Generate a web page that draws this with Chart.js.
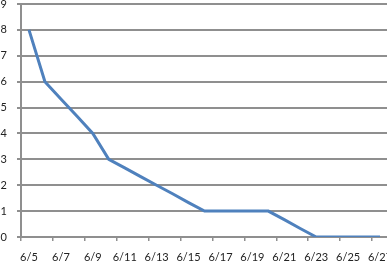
<!DOCTYPE html>
<html>
<head>
<meta charset="utf-8">
<script src="https://cdn.jsdelivr.net/npm/chart.js@4/dist/chart.umd.min.js"></script>
<style>
  html, body { margin: 0; padding: 0; background: #fff; overflow: hidden; }
  #wrap { width: 400px; height: 267px; position: relative; }
</style>
</head>
<body>
<div id="wrap"><canvas id="c"></canvas></div>
<script>
const categories = ["6/5","6/6","6/7","6/8","6/9","6/10","6/11","6/12","6/13","6/14","6/15","6/16",
                    "6/17","6/18","6/19","6/20","6/21","6/22","6/23","6/24","6/25","6/26","6/27"];
const remaining = [8, 6, 5.33, 4.67, 4, 3, 2.67, 2.33, 2, 1.67, 1.33, 1,
                   1, 1, 1, 1, 0.67, 0.33, 0, 0, 0, 0, 0];
const yTicks = [0, 1, 2, 3, 4, 5, 6, 7, 8, 9];

const axisGray = '#8f8f8f';
const font = { family: 'Lato, "Open Sans", sans-serif', size: 11 };

new Chart(document.getElementById('c'), {
  type: 'line',
  data: {
    labels: categories,
    datasets: [{
      data: remaining,
      borderColor: '#4f81bd',
      borderWidth: 3,
      pointRadius: 0,
      tension: 0,
      fill: false
    }]
  },
  options: {
    responsive: true,
    maintainAspectRatio: false,
    animation: false,
    layout: { padding: { top: 4, right: 12, left: 0, bottom: 0 } },
    plugins: { legend: { display: false }, tooltip: { enabled: false } },
    scales: {
      x: {
        type: 'category',
        offset: true,
        grid: {
          offset: true,
          drawOnChartArea: false,
          drawTicks: true,
          tickLength: 4,
          lineWidth: 1.5,
          color: (ctx) => (ctx.index % 2 === 0 ? axisGray : 'rgba(0,0,0,0)')
        },
        border: { display: true, color: axisGray, width: 2 },
        ticks: {
          autoSkip: false,
          maxRotation: 0,
          minRotation: 0,
          padding: 10,
          color: '#222',
          font: font,
          callback: function (v, i) { return i % 2 === 0 ? categories[i] : ''; }
        },
        afterFit: (s) => { s.height = 30; s.paddingLeft = 0; s.paddingRight = 0; }
      },
      y: {
        min: 0,
        max: 9,
        afterBuildTicks: (s) => { s.ticks = yTicks.map(v => ({ value: v })); },
        grid: {
          drawTicks: true,
          tickLength: 4,
          lineWidth: 2,
          color: axisGray
        },
        border: { display: true, color: axisGray, width: 2 },
        ticks: {
          padding: 10,
          color: '#222',
          font: font
        },
        afterFit: (s) => { s.width = 21; s.paddingTop = 0; s.paddingBottom = 0; }
      }
    }
  }
});
</script>
</body>
</html>
